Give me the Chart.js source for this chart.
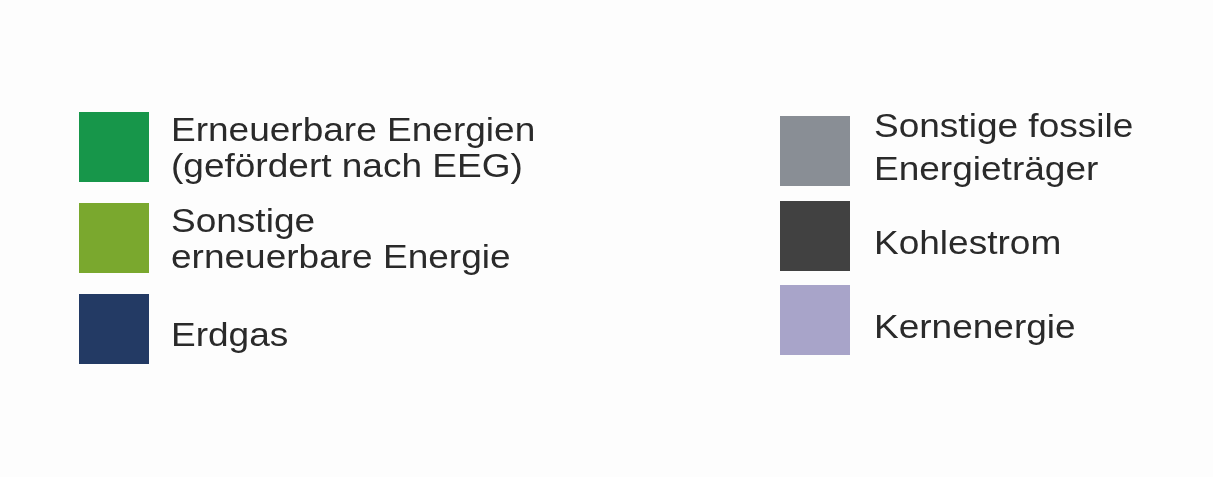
<!DOCTYPE html>
<html lang="de">
<head>
<meta charset="utf-8">
<title>Strommix Legende</title>
<script src="https://cdn.jsdelivr.net/npm/chart.js@4"></script>
<style>
html, body { margin: 0; padding: 0; background: #fdfdfd; }
#wrap { position: relative; width: 1213px; height: 477px; overflow: hidden; }
#myChart { position: absolute; left: 0; top: 0; }
.legendCol {
    position: absolute; margin: 0; padding: 0; list-style: none;
    font-family: "Liberation Sans", Arial, sans-serif; font-size: 33.5px;
    color: #2a2a2a;
}
.legendCol li { display: flex; align-items: center; height: 70px; }
.legendCol .box { width: 70px; height: 70px; flex: none; }
/* the original lettering is stretched sideways a bit */
.legendCol .txt { display: inline-block; white-space: pre; transform: scaleX(1.105); transform-origin: 0 50%; }
.legendCol .single { padding-top: 13px; }
#legendLeft { left: 79px; top: 112px; }
#legendLeft li { margin-bottom: 21px; }
#legendLeft .box { margin-right: 22px; }
#legendLeft .txt { line-height: 36.5px; }
#legendLeft .multi { padding-top: 2px; }
#legendRight { left: 780px; top: 116px; }
#legendRight li { margin-bottom: 14.5px; }
#legendRight .box { margin-right: 24px; }
#legendRight .txt { line-height: 43px; }
#legendRight .multi { padding-bottom: 9px; }
</style>
</head>
<body>
<div id="wrap">
    <canvas id="myChart" width="1213" height="477"></canvas>
    <ul id="legendLeft" class="legendCol"></ul>
    <ul id="legendRight" class="legendCol"></ul>
</div>
<script>
// legend entries (lines as in the original)
const categories = [
    ['Erneuerbare Energien', '(gefördert nach EEG)'],
    ['Sonstige', 'erneuerbare Energie'],
    ['Erdgas'],
    ['Sonstige fossile', 'Energieträger'],
    ['Kohlestrom'],
    ['Kernenergie']
]
const colors = ['#17964a', '#7aa82e', '#233a64', '#898e95', '#414141', '#a8a4c9']
// first three go in the left column
const leftCount = 3

// html legend built from the chart's own legend items
const htmlLegend = {
    id: 'htmlLegend',
    afterUpdate(chart) {
        let left = document.getElementById('legendLeft')
        let right = document.getElementById('legendRight')
        left.innerHTML = ''
        right.innerHTML = ''

        let items = chart.options.plugins.legend.labels.generateLabels(chart)
        items.forEach((item, i) => {
            let li = document.createElement('li')
            let box = document.createElement('span')
            box.className = 'box'
            box.style.background = item.fillStyle
            let txt = document.createElement('span')
            let lines = item.text.split('\n')
            txt.className = 'txt ' + (lines.length == 1 ? 'single' : 'multi')
            txt.textContent = item.text
            li.appendChild(box)
            li.appendChild(txt)
            if (i < leftCount) {
                left.appendChild(li)
            } else {
                right.appendChild(li)
            }
        })
    }
}

let ctx = document.getElementById('myChart').getContext('2d')
let myChart = new Chart(ctx, {
    type: 'bar',
    data: {
        labels: [],
        datasets: categories.map((c, i) => ({
            label: c.join('\n'),
            backgroundColor: colors[i],
            data: []
        }))
    },
    options: {
        responsive: false,
        animation: false,
        plugins: {
            legend: { display: false },
            tooltip: { enabled: false }
        },
        scales: {
            x: { display: false },
            y: { display: false }
        }
    },
    plugins: [htmlLegend]
})
</script>
</body>
</html>
